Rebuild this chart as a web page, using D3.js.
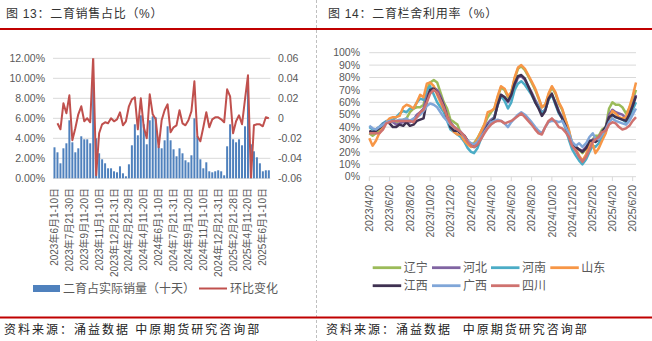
<!DOCTYPE html>
<html><head><meta charset="utf-8">
<script src="https://cdn.jsdelivr.net/npm/d3@7/dist/d3.min.js"></script>
<style>
body{margin:0;background:#fff}
svg text{font-family:"Liberation Sans","Noto Sans CJK SC",sans-serif}
</style>
</head><body>
<svg id="c" width="652" height="341"></svg>
<script>
// ---------- Figure 13 data ----------
const dek2023 = ["6月1-10日","6月11-20日","6月21-30日","7月1-10日","7月11-20日","7月21-30日","8月1-10日","8月11-20日","8月21-31日","9月1-10日","9月11-20日","9月21-30日","10月1-10日","10月11-20日","10月21-31日","11月1-10日","11月11-20日","11月21-30日","12月1-10日","12月11-20日","12月21-31日"];
const dek2024 = ["1月1-10日","1月11-20日","1月21-31日","2月1-20日","2月21-29日","3月1-10日","3月11-20日","3月21-31日","4月1-10日","4月11-20日","4月21-30日","5月1-10日","5月11-20日","5月21-31日","6月1-10日","6月11-20日","6月21-30日","7月1-10日","7月11-20日","7月21-31日","8月1-10日","8月11-20日","8月21-31日","9月1-10日","9月11-20日","9月21-30日","10月1-10日","10月11-20日","10月21-31日","11月1-10日","11月11-20日","11月21-30日","12月1-10日","12月11-20日","12月21-31日"];
const dek2025 = ["1月1-10日","1月11-20日","1月21-31日","2月1-20日","2月21-28日","3月1-10日","3月11-20日","3月21-31日","4月1-10日","4月11-20日","4月21-30日","5月1-10日","5月11-20日","5月21-31日","6月1-10日","6月11-20日","6月21-30日"];
const periods = [...dek2023.map(d=>"2023年"+d), ...dek2024.map(d=>"2024年"+d), ...dek2025.map(d=>"2025年"+d)];

const shareValues = [3.1,2.6,1.5,3.0,3.5,5.8,3.6,2.6,3.0,4.2,3.9,3.9,3.5,
  9.6,4.0,2.5,1.9,1.5,1.0,1.0,0.7,0.6,1.2,0.5,0.2,1.4,
  3.3,5.4,4.3,6.3,5.4,3.4,5.8,6.2,6.1,3.2,3.0,3.8,5.2,
  3.8,2.9,2.2,3.0,2.5,1.8,1.6,2.3,6.0,4.2,1.9,1.0,1.6,
  0.7,0.6,0.7,0.8,0.7,0.3,3.2,5.4,3.9,3.6,3.9,3.3,5.2,
  9.5,3.4,2.7,2.1,1.5,0.7,0.8,0.8];
const changeValues = [null,-0.005,-0.011,0.015,0.005,0.023,-0.022,-0.010,0.004,0.012,-0.003,0.000,-0.004,
  0.062,-0.057,-0.015,-0.006,-0.004,-0.005,0.000,-0.003,-0.001,0.006,-0.007,-0.003,0.012,
  0.019,0.021,-0.011,0.020,-0.009,-0.020,0.024,0.004,-0.001,-0.029,-0.002,0.008,0.014,
  -0.014,-0.009,-0.007,0.008,-0.005,-0.007,-0.002,0.007,0.037,-0.018,-0.023,-0.009,0.006,
  -0.009,-0.001,0.001,0.001,-0.001,-0.004,0.029,0.022,-0.015,-0.003,0.003,-0.006,0.019,
  0.043,-0.061,-0.007,-0.006,-0.006,-0.008,0.001,0.000];
const leftTicks = [0,2,4,6,8,10,12];
const rightTicks = [-0.06,-0.04,-0.02,0,0.02,0.04,0.06];

// ---------- Figure 14 data ----------
const provinces = ["辽宁","河北","河南","山东","江西","广西","四川"];
const colors = ["#9BBB59","#8064A2","#4BACC6","#F79646","#3F3151","#80A6D8","#CF726F"];
const liaoning = [35,33,35,38,42,44,45,45,44,45, 46,47,52,55,56,56,58,70,76,78, 76,68,60,55,46,44,42,35,32,27,
  26,27,31,36,42,48,52,55,64,72, 70,64,68,79,87,89,86,81,76,70, 63,56,58,66,72,67,59,54,46,37,
  27,24,22,19,23,27,30,33,33,38, 40,55,60,58,58,56,51,55,62,70];
const hebei = [36,36,38,40,43,44,45,44,42,43, 44,45,44,46,50,52,55,65,70,72, 70,65,58,50,44,40,38,36,33,28,
  25,24,27,32,38,43,46,48,58,66, 64,60,64,73,80,81,78,73,68,62, 57,52,54,63,66,60,53,48,41,33,
  26,24,22,21,24,28,30,30,32,36, 40,50,54,52,51,50,47,52,58,66];
const henan = [40,38,38,40,43,45,45,46,48,51, 53,52,55,55,60,63,62,70,73,66, 60,56,52,45,38,36,34,32,28,23,
  20,19,23,30,36,40,44,48,58,65, 61,55,60,70,75,77,74,70,66,60, 56,51,54,62,66,58,51,47,39,30,
  22,17,13,10,14,20,25,24,27,32, 37,46,50,48,47,46,44,48,54,60];
const shandong = [31,25,29,35,40,44,47,48,48,49, 56,58,57,55,60,66,64,75,76,73, 66,60,54,50,41,36,34,34,29,26,
  24,26,30,36,42,52,53,55,65,73, 71,65,68,80,88,90,87,82,77,71, 64,56,58,67,73,68,60,55,46,38,
  26,22,17,13,18,27,26,19,23,29, 35,46,53,51,48,47,48,56,65,76];
const jiangxi = [37,36,37,39,42,44,43,40,40,42, 41,44,41,42,45,46,47,61,70,71, 68,63,57,48,40,37,37,35,33,29,
  26,24,26,31,36,41,44,47,58,66, 64,61,66,75,81,82,79,73,67,60, 55,49,53,63,67,59,52,47,41,33,
  26,24,22,20,23,29,29,28,30,36, 40,48,50,48,47,46,45,50,57,65];
const guangxi = [41,39,38,40,42,44,45,45,45,46, 46,47,45,47,48,50,53,57,59,58, 56,52,48,45,42,40,38,36,32,29,
  27,26,28,32,36,40,44,45,46,45, 43,40,44,47,50,52,50,47,44,40, 37,35,40,44,45,45,44,45,40,35,
  28,25,27,24,27,32,35,31,30,34, 38,44,47,45,44,43,42,45,50,55];
const sichuan = [35,35,35,35,38,43,44,45,45,45, 45,45,45,44,48,52,54,60,67,70, 68,62,56,48,43,40,38,36,33,28,
  25,24,26,30,35,39,42,44,45,45, 43,44,45,47,49,51,48,45,42,38, 35,34,40,45,47,44,40,39,36,32,
  25,21,16,12,16,22,28,30,32,36, 37,42,44,43,40,38,39,41,45,48];
const seriesValues = [liaoning,hebei,henan,shandong,jiangxi,guangxi,sichuan];
const pctTicks = [0,10,20,30,40,50,60,70,80,90,100];

// dekad dates 2023/4/20 .. 2025/6/30
const dates = [new Date(2023,3,20), new Date(2023,3,30)];
for (let y=2023,m=4; y<2025 || m<=5; ) {
  const last = new Date(y,m+1,0).getDate();
  dates.push(new Date(y,m,10), new Date(y,m,20), new Date(y,m,last));
  m++; if (m>11){m=0;y++;}
}
const dateTicks = [];
for (let y=2023,m=3; y<2025 || m<=5; ) { dateTicks.push(new Date(y,m,20)); m+=2; if(m>11){m-=12;y++;} }

const svg = d3.select("#c");
const grid = "#D9D9D9", axisText = "#595959";

// ---------- frame ----------
svg.append("line").attr("x1",316.5).attr("x2",316.5).attr("y1",0).attr("y2",341)
  .attr("stroke","#BFBFBF").attr("stroke-dasharray","3,2");
[29,317.5].forEach(y=>svg.append("line").attr("x1",0).attr("x2",652).attr("y1",y).attr("y2",y)
  .attr("stroke","#C00000").attr("stroke-width",2));
svg.append("text").attr("x",6).attr("y",18).attr("font-size",12).attr("fill","#333").attr("letter-spacing",0.7)
  .text("图 13：二育销售占比（%）");
svg.append("text").attr("x",328).attr("y",18).attr("font-size",12).attr("fill","#333").attr("letter-spacing",0.7)
  .text("图 14：二育栏舍利用率（%）");
svg.append("text").attr("x",4).attr("y",334).attr("font-size",12).attr("fill","#222").attr("letter-spacing",2)
  .text("资料来源：涌益数据 中原期货研究咨询部");
svg.append("text").attr("x",326).attr("y",334).attr("font-size",12).attr("fill","#222").attr("letter-spacing",2)
  .style("white-space","pre").text("资料来源：涌益数据  中原期货研究咨询部");

// ---------- Figure 13 ----------
const xL = d3.scaleBand().domain(d3.range(periods.length)).range([53,270.3]);
const yL = d3.scaleLinear().domain([0,12]).range([178.3,58.3]);
const yR = d3.scaleLinear().domain([-0.06,0.06]).range([178.3,58.3]);
const L = svg.append("g");
leftTicks.forEach(t=>{
  L.append("line").attr("x1",53).attr("x2",270.3).attr("y1",yL(t)).attr("y2",yL(t)).attr("stroke",grid);
  L.append("text").attr("x",45).attr("y",yL(t)).attr("dy","0.35em").attr("text-anchor","end")
    .attr("font-size",10.5).attr("fill",axisText).text(t.toFixed(2)+"%");
});
rightTicks.forEach(t=>{
  L.append("text").attr("x",278).attr("y",yR(t)).attr("dy","0.35em").attr("font-size",10.5)
    .attr("fill",axisText).text(t===0?"0":t.toFixed(2));
});
const bw = 2;
L.selectAll("rect.bar").data(shareValues).join("rect").attr("class","bar")
  .attr("x",(d,i)=>xL(i)+(xL.bandwidth()-bw)/2).attr("width",bw)
  .attr("y",d=>yL(d)).attr("height",d=>yL(0)-yL(d)).attr("fill","#4F81BD");
svg.append("clipPath").attr("id","clipL").append("rect").attr("x",40).attr("y",58.3).attr("width",250).attr("height",120);
L.append("path").attr("clip-path","url(#clipL)")
  .attr("d",d3.line().defined(d=>d!==null).x((d,i)=>xL(i)+xL.bandwidth()/2).y(d=>yR(d))(changeValues))
  .attr("fill","none").attr("stroke","#C0504D").attr("stroke-width",2).attr("stroke-linejoin","round");
periods.forEach((p,i)=>{
  if (i%5) return;
  L.append("text").attr("transform",`translate(${xL(i)+xL.bandwidth()/2},188) rotate(-90)`)
    .attr("dy","0.35em").attr("text-anchor","end").attr("font-size",10).attr("fill",axisText).text(p);
});
// legend
L.append("rect").attr("x",33).attr("y",285).attr("width",27).attr("height",7).attr("fill","#4F81BD");
L.append("text").attr("x",63).attr("y",288.5).attr("dy","0.35em").attr("font-size",12).attr("fill",axisText).text("二育占实际销量（十天）");
L.append("line").attr("x1",199).attr("x2",227).attr("y1",288.5).attr("y2",288.5).attr("stroke","#C0504D").attr("stroke-width",2);
L.append("text").attr("x",230).attr("y",288.5).attr("dy","0.35em").attr("font-size",12).attr("fill",axisText).text("环比变化");

// ---------- Figure 14 ----------
const xT = d3.scaleTime().domain([dates[0], dates[dates.length-1]]).range([369.3,636]);
const yP = d3.scaleLinear().domain([0,100]).range([176.7,52.7]);
const R = svg.append("g");
pctTicks.forEach(t=>{
  R.append("line").attr("x1",369.3).attr("x2",636).attr("y1",yP(t)).attr("y2",yP(t)).attr("stroke",grid);
  R.append("text").attr("x",360).attr("y",yP(t)).attr("dy","0.35em").attr("text-anchor","end")
    .attr("font-size",10.5).attr("fill",axisText).text(t+"%");
});
const fmt = d=>`${d.getFullYear()}/${d.getMonth()+1}/${d.getDate()}`;
dateTicks.forEach(d=>{
  R.append("line").attr("x1",xT(d)).attr("x2",xT(d)).attr("y1",176.7).attr("y2",181).attr("stroke",grid);
  R.append("text").attr("transform",`translate(${xT(d)},185) rotate(-90)`).attr("dy","0.35em")
    .attr("text-anchor","end").attr("font-size",10.5).attr("fill",axisText).text(fmt(d));
});
const line = d3.line().x((d,i)=>xT(dates[i])).y(d=>yP(d));
seriesValues.forEach((s,j)=>{
  R.append("path").attr("d",line(s)).attr("fill","none").attr("stroke",colors[j])
    .attr("stroke-width",2.5).attr("stroke-linejoin","round");
});
const legX = [372.7,432,491,550.3];
provinces.forEach((p,j)=>{
  const row = j<4?0:1, col = j<4?j:j-4;
  const y = row?285.7:267.7, x = legX[col];
  R.append("line").attr("x1",x).attr("x2",x+28.5).attr("y1",y).attr("y2",y).attr("stroke",colors[j]).attr("stroke-width",2.8);
  R.append("text").attr("x",x+31).attr("y",y).attr("dy","0.35em").attr("font-size",12).attr("fill",axisText).text(p);
});
</script>
</body></html>
